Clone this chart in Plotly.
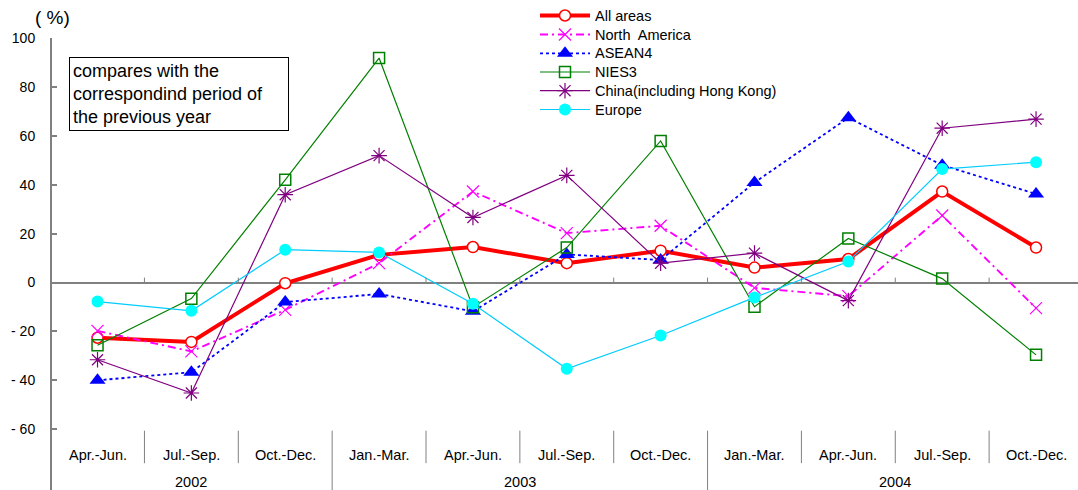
import plotly.graph_objects as go

# Quarter labels and year groups along the bottom axis
quarters = ["Apr.-Jun.", "Jul.-Sep.", "Oct.-Dec.",
            "Jan.-Mar.", "Apr.-Jun.", "Jul.-Sep.", "Oct.-Dec.",
            "Jan.-Mar.", "Apr.-Jun.", "Jul.-Sep.", "Oct.-Dec."]
years = ["2002", "2003", "2004"]
year_spans = [(0, 2), (3, 6), (7, 10)]

# Year-on-year change (%) by region
all_areas = [-22.6, -24.3, -0.3, 11.3, 14.5, 7.9, 13.0, 6.1, 9.6, 37.2, 14.3]
north_america = [-19.8, -28.2, -11.2, 7.9, 37.2, 20.2, 23.2, -2.2, -5.6, 27.4, -10.5]
asean4 = [-40.0, -36.7, -8.0, -4.7, -11.8, 11.5, 9.2, 40.9, 67.4, 48.0, 36.2]
nies3 = [-25.7, -6.6, 42.0, 91.8, -10.1, 14.3, 57.9, -9.9, 18.0, 1.6, -29.6]
china = [-31.6, -45.2, 35.9, 51.9, 26.6, 43.8, 7.9, 12.0, -7.4, 63.1, 66.8]
europe = [-7.8, -11.6, 13.4, 12.3, -8.7, -35.3, -21.7, -6.1, 8.6, 46.4, 49.2]

y_ticks = [-60, -40, -20, 0, 20, 40, 60, 80, 100]
y_tick_text = ["- 60", "- 40", "- 20", "0", "20", "40", "60", "80", "100"]

FONT = "Liberation Sans, Arial, sans-serif"
GREY = "#808080"
W, H = 1078, 490
x = list(range(len(quarters)))

# name, values, line style, marker style
series = [
    ("All areas", all_areas,
     dict(color="#FF0000", width=4),
     dict(symbol="circle", size=11, color="white", line=dict(color="#FF0000", width=1.5))),
    ("North  America", north_america,
     dict(color="#FF00FF", width=1.9, dash="8px,4px,2px,4px"),
     dict(symbol="x-thin-open", size=12, color="#FF00FF",
          line=dict(color="#FF00FF", width=1.2))),
    ("ASEAN4", asean4,
     dict(color="#0000FF", width=1.8, dash="dot"),
     dict(symbol="triangle-up", size=14, color="#0000FF")),
    ("NIES3", nies3,
     dict(color="#008000", width=1.2),
     dict(symbol="square-open", size=11, color="#008000",
          line=dict(color="#008000", width=1.5))),
    ("China(including Hong Kong)", china,
     dict(color="#800080", width=1.2),
     dict(symbol="asterisk-open", size=13, color="#800080",
          line=dict(color="#800080", width=1.2))),
    ("Europe", europe,
     dict(color="#00CCFF", width=1.2),
     dict(symbol="circle", size=12, color="#00FFFF")),
]

fig = go.Figure()

for name, vals, line, marker in series:
    fig.add_trace(go.Scatter(x=x, y=vals, name=name, mode="lines+markers",
                             line=line, marker=marker, showlegend=False))

# Legend key drawn on a pixel-scaled overlay (x2/y2)
LEG_X0, LEG_X1, LEG_TEXT_X = 540, 590, 593
leg_rows = [15.5, 34.5, 53.3, 72.0, 90.7, 109.5]
for (name, vals, line, marker), ry in zip(series, leg_rows):
    fig.add_trace(go.Scatter(x=[LEG_X0, LEG_X1], y=[ry, ry], mode="lines", line=line,
                             xaxis="x2", yaxis="y2", showlegend=False, hoverinfo="skip"))
    fig.add_trace(go.Scatter(x=[(LEG_X0 + LEG_X1) / 2], y=[ry], mode="markers",
                             marker=marker, xaxis="x2", yaxis="y2",
                             showlegend=False, hoverinfo="skip"))

Y_BOTTOM = -84.87
Q_SEP_LOW = -73.9

shapes = []
# small tick marks on the zero line at category boundaries
for k in range(len(quarters) - 1):
    b = k + 0.5
    shapes.append(dict(type="line", xref="x", yref="y", x0=b, x1=b, y0=0, y1=2,
                       line=dict(color=GREY, width=1)))
# separators in the category label band
year_bounds = [s[0] - 0.5 for s in year_spans[1:]]
for k in range(len(quarters) - 1):
    b = k + 0.5
    low = Y_BOTTOM if b in year_bounds else Q_SEP_LOW
    shapes.append(dict(type="line", xref="x", yref="y", x0=b, x1=b, y0=-60.6, y1=low,
                       line=dict(color=GREY, width=1)))

annotations = []
for (name, vals, line, marker), ry in zip(series, leg_rows):
    annotations.append(dict(x=LEG_TEXT_X, y=ry, xref="x2", yref="y2", text=name,
                            showarrow=False, xanchor="left", yanchor="middle",
                            font=dict(family=FONT, size=14.5, color="black")))
for k, q in enumerate(quarters):
    annotations.append(dict(x=k, y=-70.6, xref="x", yref="y", text=q, showarrow=False,
                            font=dict(family=FONT, size=14.5, color="black")))
for yr, (a, b) in zip(years, year_spans):
    annotations.append(dict(x=(a + b) / 2, y=481.5, xref="x", yref="y2", text=yr,
                            showarrow=False, yanchor="middle", borderpad=0,
                            font=dict(family=FONT, size=14.5, color="black")))
annotations.append(dict(x=52, y=17, xref="x2", yref="y2", text="( %)",
                        showarrow=False, xanchor="center", yanchor="middle",
                        font=dict(family=FONT, size=19, color="black")))
annotations.append(dict(
    x=69, y=57, xref="x2", yref="y2", xanchor="left", yanchor="top",
    text="compares with the<br>correspondind period of<br>the previous year",
    showarrow=False, align="left", width=212, height=66,
    bordercolor="black", borderwidth=1, borderpad=3, bgcolor="white",
    font=dict(family=FONT, size=18, color="black"),
))

PLOT_L, PLOT_T = 52, 38
fig.update_layout(
    width=W, height=H,
    margin=dict(l=0, r=0, t=0, b=0, pad=0, autoexpand=False),
    paper_bgcolor="white", plot_bgcolor="rgba(0,0,0,0)",
    font=dict(family=FONT, size=14, color="black"),
    xaxis=dict(visible=False, range=[-0.485, 10.447], fixedrange=True,
               domain=[PLOT_L / W, 1], automargin=False),
    yaxis=dict(range=[Y_BOTTOM, 100], domain=[0, (H - PLOT_T) / H], automargin=False,
               tickvals=y_ticks, ticktext=y_tick_text,
               showgrid=False, zeroline=True, zerolinecolor=GREY, zerolinewidth=2,
               showline=True, linecolor=GREY, linewidth=2,
               ticks="inside", ticklen=5, tickcolor=GREY, tickwidth=1.5,
               ticklabelstandoff=12,
               tickfont=dict(family=FONT, size=14, color="black")),
    xaxis2=dict(visible=False, range=[0, W], domain=[0, 1], anchor="y2",
                fixedrange=True, automargin=False),
    yaxis2=dict(visible=False, range=[H, 0], domain=[0, 1], anchor="x2",
                fixedrange=True, automargin=False),
    shapes=shapes, annotations=annotations,
    showlegend=False,
)

fig.write_html("out.html")
